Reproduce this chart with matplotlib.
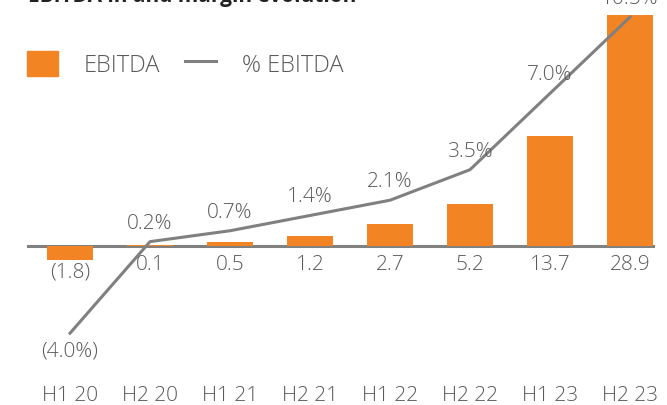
import matplotlib
matplotlib.use('Agg')
import matplotlib.pyplot as plt
from matplotlib.patches import Patch
from matplotlib.lines import Line2D

# data
periods = ['H1 20', 'H2 20', 'H1 21', 'H2 21', 'H1 22', 'H2 22', 'H1 23', 'H2 23']
ebitda = [-1.8, 0.1, 0.5, 1.2, 2.7, 5.2, 13.7, 28.9]
margin = [-4.0, 0.2, 0.7, 1.4, 2.1, 3.5, 7.0, 10.5]

orange = '#F28423'
grey = '#808080'
txt = '#5a5a5a'
plt.rcParams['font.family'] = ['Open Sans', 'DejaVu Sans']

W, H = 667, 406
fig = plt.figure(figsize=(W / 100, H / 100), dpi=100)
ax = fig.add_axes([27 / W, 0, (655 - 27) / W, 1])
ax2 = ax.twinx()

x = list(range(len(periods)))
ax.bar(x, ebitda, width=0.575, color=orange, zorder=3)
ax.axhline(0, color=grey, lw=2.2, zorder=2)
ax2.plot(x, margin, color=grey, lw=2.2)

ax.set_xlim(-0.5375, 7.3125)
ax.set_ylim(-159 / 8.0, 247 / 8.0)
ax2.set_ylim(-159 / 21.8, 247 / 21.8)
for a in (ax, ax2):
    a.axis('off')

# bar labels (below baseline)
for xi, v in zip(x, ebitda):
    lab = '({:.1f})'.format(-v) if v < 0 else '{:.1f}'.format(v)
    y0 = v if v < 0 else 0
    ax.annotate(lab, (xi, y0), xytext=(0, -18 if v >= 0 else -11),
                textcoords='offset pixels', ha='center', va='center',
                fontsize=15, fontweight='light', color=txt)

# margin labels
for xi, m in zip(x, margin):
    lab = '({:.1f}%)'.format(-m) if m < 0 else '{:.1f}%'.format(m)
    dy = -17 if m < 0 else 19
    ax2.annotate(lab, (xi, m), xytext=(0, dy), textcoords='offset pixels',
                 ha='center', va='center', fontsize=15, fontweight='light',
                 color=txt, annotation_clip=False)

# category labels
for xi, p in zip(x, periods):
    ax.text(xi, 10 / H, p, transform=ax.get_xaxis_transform(),
            ha='center', va='center', fontsize=15, fontweight='light',
            color=txt)

# title (cut off at the top of the picture)
fig.text(28 / W, 1 - 2 / H, 'EBITDA in and margin evolution', ha='left',
         va='baseline', fontsize=15, fontweight='bold', color='#222222')

handles = [Patch(color=orange), Line2D([], [], color=grey, lw=2.2)]
fig.legend(handles, ['EBITDA', '% EBITDA'], loc='center left',
           bbox_to_anchor=(27 / W, 1 - 65 / H), ncol=2, frameon=False,
           labelcolor=txt, handlelength=1.31, handleheight=1.31,
           handletextpad=1.1, columnspacing=1.06, borderpad=0,
           borderaxespad=0, prop={'weight': 'light', 'size': 17})

fig.savefig('out.png', dpi=100)
